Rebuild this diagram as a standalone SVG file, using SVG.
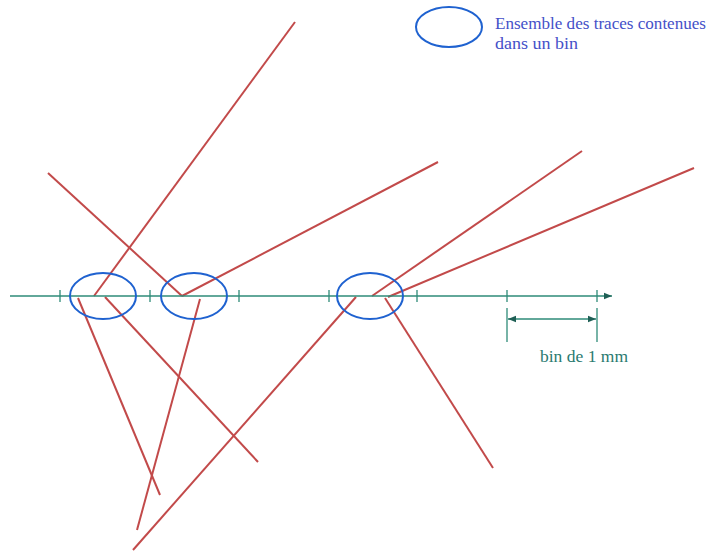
<svg xmlns="http://www.w3.org/2000/svg" width="717" height="554" viewBox="0 0 717 554">
<defs>
<marker id="ah" viewBox="0 0 10 10" refX="10" refY="5" markerWidth="10" markerHeight="8" orient="auto-start-reverse" markerUnits="userSpaceOnUse"><path d="M0,1 L10,5 L0,9 Z" fill="#1f5f55"/></marker>
<style>
.tr{stroke:#c24a4a;stroke-width:2;fill:none}
.ax{stroke:#2e8b78;stroke-width:1.3;fill:none}
.bin{stroke:#1f62d0;stroke-width:2;fill:none}
.lbl{font-family:"Liberation Serif",serif;font-size:16px}
</style>
</defs>
<rect width="717" height="554" fill="#fff"/>
<g id="traces">
<line class="tr" x1="295" y1="22" x2="94" y2="296"/>
<line class="tr" x1="48" y1="173" x2="182" y2="296"/>
<line class="tr" x1="438" y1="162" x2="182" y2="296"/>
<line class="tr" x1="582" y1="151" x2="372" y2="296"/>
<line class="tr" x1="694" y1="168" x2="388" y2="297"/>
<line class="tr" x1="133" y1="550" x2="356" y2="297"/>
<line class="tr" x1="385" y1="298" x2="493" y2="468"/>
<line class="tr" x1="78" y1="298" x2="160" y2="495"/>
<line class="tr" x1="105" y1="297" x2="258" y2="462"/>
<line class="tr" x1="200" y1="299" x2="137" y2="530"/>
</g>
<g id="axis">
<line class="ax" x1="10" y1="296" x2="612" y2="296" marker-end="url(#ah)"/>
<g class="ax">
<line x1="60" y1="290" x2="60" y2="302"/>
<line x1="150" y1="290" x2="150" y2="302"/>
<line x1="239" y1="290" x2="239" y2="302"/>
<line x1="329" y1="290" x2="329" y2="302"/>
<line x1="417" y1="290" x2="417" y2="302"/>
<line x1="507" y1="290" x2="507" y2="302"/>
<line x1="597" y1="290" x2="597" y2="302"/>
</g>
</g>
<g id="bins">
<ellipse class="bin" cx="103" cy="296" rx="33" ry="23"/>
<ellipse class="bin" cx="194" cy="296" rx="33" ry="23"/>
<ellipse class="bin" cx="370" cy="296" rx="33" ry="23"/>
</g>
<g id="dimension">
<line class="ax" x1="507" y1="308" x2="507" y2="342"/>
<line class="ax" x1="597" y1="308" x2="597" y2="342"/>
<line class="ax" x1="508" y1="319" x2="596" y2="319" marker-start="url(#ah)" marker-end="url(#ah)"/>
<text class="lbl" x="540" y="362" fill="#2a7a70" textLength="88" lengthAdjust="spacingAndGlyphs">bin de 1 mm</text>
</g>
<g id="legend">
<ellipse class="bin" cx="449" cy="27" rx="33" ry="20"/>
<text class="lbl" x="495" y="29" fill="#4450c8" textLength="211" lengthAdjust="spacingAndGlyphs">Ensemble des traces contenues</text>
<text class="lbl" x="495" y="49" fill="#4450c8" textLength="83" lengthAdjust="spacingAndGlyphs">dans un bin</text>
</g>
</svg>
